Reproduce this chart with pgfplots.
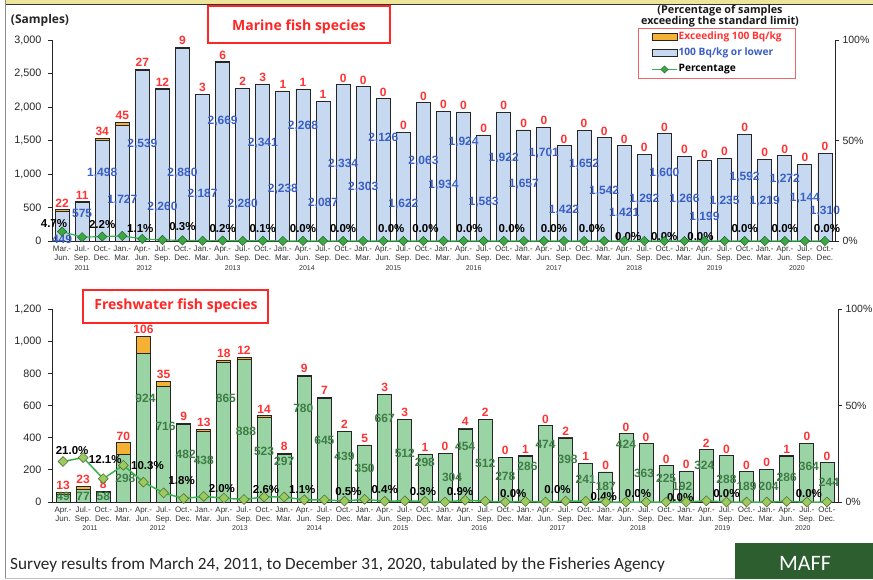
\documentclass[border=0pt]{standalone}
\usepackage{pgfplots}
\pgfplotsset{compat=1.18}
\usepackage{pgfplotstable}
\usepackage{fontspec}
\setmainfont{Liberation Sans}
\newfontfamily\osans{Open Sans}
\newfontfamily\carl{Carlito}
\definecolor{lowblue}{HTML}{C6D9F0}
\definecolor{excor}{HTML}{F4B133}
\definecolor{fwgreen}{HTML}{9AD3A4}
\definecolor{labblue}{HTML}{3B5FC4}
\definecolor{labred}{HTML}{FF3333}
\definecolor{labgreen}{HTML}{3E7D46}
\definecolor{pline}{HTML}{36B24C}
\definecolor{mmark}{HTML}{3BA845}
\definecolor{fmark}{HTML}{9BCB5F}
\definecolor{maffgreen}{HTML}{2C5E30}
\definecolor{legred}{HTML}{F06565}
\definecolor{titred}{HTML}{FF2626}
\definecolor{topyellow}{HTML}{EDE69A}

\pgfplotstableread{
x low exc pct
0 449 22 4.7
1 575 11 1.9
2 1498 34 2.2
3 1727 45 2.5
4 2539 27 1.05
5 2260 12 0.53
6 2880 9 0.31
7 2187 3 0.14
8 2669 6 0.22
9 2280 2 0.09
10 2341 3 0.13
11 2238 1 0.04
12 2268 1 0.04
13 2087 1 0.05
14 2334 0 0
15 2303 0 0
16 2126 0 0
17 1622 0 0
18 2063 0 0
19 1934 0 0
20 1924 0 0
21 1583 0 0
22 1922 0 0
23 1657 0 0
24 1701 0 0
25 1422 0 0
26 1652 0 0
27 1542 0 0
28 1421 0 0
29 1292 0 0
30 1600 0 0
31 1266 0 0
32 1199 0 0
33 1235 0 0
34 1592 0 0
35 1219 0 0
36 1272 0 0
37 1144 0 0
38 1310 0 0
}\marine

\pgfplotstableread{
x ly lab
0 30 449
1 418 575
2 1015 1,498
3 612 1,727
4 1448 2,539
5 507 2,260
6 1015 2,880
7 702 2,187
8 1792 2,669
9 552 2,280
10 1463 2,341
11 776 2,238
12 1717 2,268
13 567 2,087
14 1150 2,334
15 806 2,303
16 1538 2,126
17 552 1,622
18 1194 2,063
19 836 1,934
20 1478 1,924
21 582 1,583
22 1239 1,922
23 851 1,657
24 1314 1,701
25 463 1,422
26 1150 1,652
27 746 1,542
28 418 1,421
29 627 1,292
30 1015 1,600
31 627 1,266
32 358 1,199
33 597 1,235
34 955 1,592
35 597 1,219
36 925 1,272
37 642 1,144
38 448 1,310
}\marinelab

\pgfplotstableread{
x ly lab
-0.4 254 4.7
2 239 2.2
3.9 179 1.1
6 209 0.3
8 179 0.2
10 179 0.1
12 179 0.0
14 179 0.0
16.4 179 0.0
18.1 179 0.0
20.3 179 0.0
22.4 179 0.0
24.5 179 0.0
26.4 179 0.0
28.2 60 0.0
30 60 0.0
31.8 60 0.0
34 179 0.0
36 179 0.0
38.1 179 0.0
}\marinepct

\pgfplotstableread{
x low exc pct
0 49 13 21.0
1 77 23 23.0
2 58 8 12.1
3 298 70 19.0
4 924 106 10.3
5 716 35 4.7
6 482 9 1.8
7 438 13 2.9
8 865 18 2.0
9 888 12 1.3
10 523 14 2.6
11 297 8 2.6
12 780 9 1.1
13 645 7 1.1
14 439 2 0.5
15 350 5 1.4
16 667 3 0.4
17 512 3 0.6
18 298 1 0.3
19 304 0 0
20 454 4 0.9
21 512 2 0.4
22 278 0 0
23 286 1 0.3
24 474 0 0
25 398 2 0.5
26 241 1 0.4
27 187 0 0
28 424 0 0
29 363 0 0
30 225 0 0
31 192 0 0
32 324 2 0.6
33 288 0 0
34 189 0 0
35 204 0 0
36 286 1 0.3
37 364 0 0
38 244 0 0
}\fresh

\pgfplotstableread{
x ly lab
0 33 49
1 33 77
2 33 58
3.1 147 298
4.1 645 924
5.1 468 716
6.1 297 482
7 257 438
8.1 645 865
9.1 437 888
10 313 523
11 251 297
11.95 583 780
13 381 645
14 282 439
15 210 350
16 520 667
17 303 512
18 244 298
19.35 151 304
20 348 454
21 240 512
22 157 278
23.1 224 286
24 361 474
25.1 265 398
26 141 241
27 100 187
28 361 424
28.9 178 363
30 147 225
30.8 95 192
31.9 230 324
33 141 288
34 95 189
35.1 95 204
36 154 286
37.1 220 364
38.1 120 244
}\freshlab

\pgfplotstableread{
x ly lab
0.45 319 21.0
2.1 265 12.1
4.2 224 10.3
5.9 132 1.8
7.9 85 2.0
10.1 75 2.6
11.9 75 1.1
14.2 64 0.5
16.0 79 0.4
17.9 64 0.3
19.75 64 0.9
22.4 50 0.0
24.6 75 0.0
26.9 33 0.4
28.6 54 0.0
30.7 30 0.0
33.0 50 0.0
37.1 50 0.0
}\freshpct

\newcommand\vallab{\bfseries\fontsize{12}{14}\selectfont}
\newcommand\redlab{\bfseries\fontsize{12}{14}\selectfont}
\newcommand\pctlab{\bfseries\fontsize{11.5}{13}\selectfont}
\newcommand\yrfont{\fontsize{7}{8}\selectfont}

\tikzset{yearlab/.style={font=\yrfont, text=black!80}}

\pgfplotsset{
  mybarlegend/.style={legend image code/.code={\draw[##1] (0pt,-3.5pt) rectangle (25pt,3.5pt);}},
  mylinelegend/.style={legend image code/.code={\draw[mark repeat=2,mark phase=2,##1] plot coordinates {(0pt,0pt) (12.5pt,0pt) (25pt,0pt)};}},
  leftax/.style={
    scale only axis, clip=false,
    axis x line*=bottom, axis y line*=left,
    axis line style={draw=black!85, line width=0.9pt},
    tick align=outside, major tick length=4pt,
    xtick={0,...,38}, major x tick style={draw=none},
    xticklabel style={align=center, font=\fontsize{8}{9}\selectfont, text=black!80, inner sep=1pt},
    yticklabel style={font=\fontsize{10.8}{12}\selectfont, text=black!85, xshift=-3pt, /pgf/number format/1000 sep={,}},
    scaled y ticks=false,
    /pgf/number format/assume math mode=true,
    ytick style={draw=black!85, line width=0.8pt},
  },
  rightax/.style={
    scale only axis, clip=false,
    axis x line=none, axis y line*=right,
    axis line style={draw=black!85, line width=0.9pt},
    tick align=outside, major tick length=4pt,
    ymin=0, ymax=100, ytick={0,50,100}, yticklabels={0\%,50\%,100\%},
    yticklabel style={font=\fontsize{10.5}{12}\selectfont, text=black!85},
    ytick style={draw=black!85, line width=0.8pt},
  },
}

\begin{document}
\begin{tikzpicture}
\path[use as bounding box, fill=white] (0pt,0pt) rectangle (873pt,579pt);

% ---------------- Marine (top) ----------------
\begin{axis}[leftax, at={(52pt,338pt)}, anchor=south west, width=783pt, height=201pt,
  xmin=-0.5, xmax=38.5, ymin=0, ymax=3000, ytick={0,500,...,3000},
  xticklabels={{Mar.-\\Jun.},{Jul.-\\Sep.},{Oct.-\\Dec.},
   {Jan.-\\Mar.},{Apr.-\\Jun.},{Jul.-\\Sep.},{Oct.-\\Dec.},
   {Jan.-\\Mar.},{Apr.-\\Jun.},{Jul.-\\Sep.},{Oct.-\\Dec.},
   {Jan.-\\Mar.},{Apr.-\\Jun.},{Jul.-\\Sep.},{Oct.-\\Dec.},
   {Jan.-\\Mar.},{Apr.-\\Jun.},{Jul.-\\Sep.},{Oct.-\\Dec.},
   {Jan.-\\Mar.},{Apr.-\\Jun.},{Jul.-\\Sep.},{Oct.-\\Dec.},
   {Jan.-\\Mar.},{Apr.-\\Jun.},{Jul.-\\Sep.},{Oct.-\\Dec.},
   {Jan.-\\Mar.},{Apr.-\\Jun.},{Jul.-\\Sep.},{Oct.-\\Dec.},
   {Jan.-\\Mar.},{Apr.-\\Jun.},{Jul.-\\Sep.},{Oct.-\\Dec.},
   {Jan.-\\Mar.},{Apr.-\\Jun.},{Jul.-\\Sep.},{Oct.-\\Dec.}},
  legend style={at={(0.7484,1.0597)}, anchor=north west, draw=legred, line width=0.8pt,
    font=\osans\bfseries\fontsize{10.2}{12}\selectfont, inner xsep=13pt, inner ysep=3pt,
    row sep=4pt, nodes={inner sep=1pt, text height=7.5pt, text depth=2.5pt},
    /tikz/every even column/.append style={column sep=3pt}},
  legend cell align=left,
]
\addplot[ybar, bar width=14pt, bar shift=0pt, fill=excor, draw=black!85, line width=0.8pt, forget plot,
  nodes near coords, point meta=explicit symbolic,
  every node near coord/.append style={font=\redlab, text=labred, inner sep=2pt}]
  table[x=x, y expr=\thisrow{low}+\thisrow{exc}, meta=exc] {\marine};
\addplot[ybar, bar width=14pt, bar shift=0pt, fill=lowblue, draw=black!85, line width=0.8pt, forget plot]
  table[x=x, y=low] {\marine};
\addplot[draw=none, forget plot, nodes near coords, point meta=explicit symbolic,
  every node near coord/.append style={anchor=center, font=\vallab, text=labblue, inner sep=0pt}]
  table[x=x, y=ly, meta=lab] {\marinelab};
\addplot[draw=none, forget plot, nodes near coords={\pgfplotspointmeta\%}, point meta=explicit symbolic,
  every node near coord/.append style={anchor=center, font=\pctlab, text=black, inner sep=0pt}]
  table[x=x, y=ly, meta=lab] {\marinepct};
\addlegendimage{mybarlegend, fill=excor, draw=black!85, line width=0.8pt}
\addlegendentry{\textcolor{labred}{Exceeding 100 Bq/kg}}
\addlegendimage{mybarlegend, fill=lowblue, draw=black!85, line width=0.8pt}
\addlegendentry{\textcolor{labblue}{100 Bq/kg or lower}}
\addlegendimage{mylinelegend, color=pline, line width=1.2pt, mark=square*, mark size=2.5pt,
  mark options={rotate=45, fill=mmark, draw=mmark!60!black, line width=0.5pt}}
\addlegendentry{Percentage}
\node[yearlab] at ([yshift=-27pt]axis cs:1,0) {2011};
\node[yearlab] at ([yshift=-27pt]axis cs:4.1,0) {2012};
\node[yearlab] at ([yshift=-27pt]axis cs:8.5,0) {2013};
\node[yearlab] at ([yshift=-27pt]axis cs:12.2,0) {2014};
\node[yearlab] at ([yshift=-27pt]axis cs:16.5,0) {2015};
\node[yearlab] at ([yshift=-27pt]axis cs:20.5,0) {2016};
\node[yearlab] at ([yshift=-27pt]axis cs:24.5,0) {2017};
\node[yearlab] at ([yshift=-27pt]axis cs:28.5,0) {2018};
\node[yearlab] at ([yshift=-27pt]axis cs:32.5,0) {2019};
\node[yearlab] at ([yshift=-27pt]axis cs:36.6,0) {2020};
\end{axis}

\begin{axis}[rightax, at={(52pt,338pt)}, anchor=south west, width=783pt, height=201pt,
  xmin=-0.5, xmax=38.5]
\addplot[color=pline, line width=1.2pt, mark=square*, mark size=3.3pt,
  mark options={rotate=45, fill=mmark, draw=mmark!60!black, line width=0.5pt}]
  table[x=x, y=pct] {\marine};
\end{axis}

% ---------------- Freshwater (bottom) ----------------
\begin{axis}[leftax, at={(52pt,77pt)}, anchor=south west, width=786pt, height=193pt,
  xmin=-0.55, xmax=38.55, ymin=0, ymax=1200, ytick={0,200,...,1200},
  xticklabels={{Apr.-\\Jun.},{Jul.-\\Sep.},{Oct.-\\Dec.},
   {Jan.-\\Mar.},{Apr.-\\Jun.},{Jul.-\\Sep.},{Oct.-\\Dec.},
   {Jan.-\\Mar.},{Apr.-\\Jun.},{Jul.-\\Sep.},{Oct.-\\Dec.},
   {Jan.-\\Mar.},{Apr.-\\Jun.},{Jul.-\\Sep.},{Oct.-\\Dec.},
   {Jan.-\\Mar.},{Apr.-\\Jun.},{Jul.-\\Sep.},{Oct.-\\Dec.},
   {Jan.-\\Mar.},{Apr.-\\Jun.},{Jul.-\\Sep.},{Oct.-\\Dec.},
   {Jan.-\\Mar.},{Apr.-\\Jun.},{Jul.-\\Sep.},{Oct.-\\Dec.},
   {Jan.-\\Mar.},{Apr.-\\Jun.},{Jul.-\\Sep.},{Oct.-\\Dec.},
   {Jan.-\\Mar.},{Apr.-\\Jun.},{Jul.-\\Sep.},{Oct.-\\Dec.},
   {Jan.-\\Mar.},{Apr.-\\Jun.},{Jul.-\\Sep.},{Oct.-\\Dec.}},
]
\addplot[ybar, bar width=14pt, bar shift=0pt, fill=excor, draw=black!85, line width=0.8pt, forget plot,
  nodes near coords, point meta=explicit symbolic,
  every node near coord/.append style={font=\redlab, text=labred, inner sep=2pt}]
  table[x=x, y expr=\thisrow{low}+\thisrow{exc}, meta=exc] {\fresh};
\addplot[ybar, bar width=14pt, bar shift=0pt, fill=fwgreen, draw=black!85, line width=0.8pt, forget plot]
  table[x=x, y=low] {\fresh};
\addplot[draw=none, forget plot, nodes near coords, point meta=explicit symbolic,
  every node near coord/.append style={anchor=center, font=\vallab, text=labgreen, inner sep=0pt}]
  table[x=x, y=ly, meta=lab] {\freshlab};
\addplot[draw=none, forget plot, nodes near coords={\pgfplotspointmeta\%}, point meta=explicit symbolic,
  every node near coord/.append style={anchor=center, font=\pctlab, text=black, inner sep=0pt}]
  table[x=x, y=ly, meta=lab] {\freshpct};
\node[yearlab] at ([yshift=-26pt]axis cs:1.34,0) {2011};
\node[yearlab] at ([yshift=-26pt]axis cs:4.7,0) {2012};
\node[yearlab] at ([yshift=-26pt]axis cs:8.8,0) {2013};
\node[yearlab] at ([yshift=-26pt]axis cs:12.5,0) {2014};
\node[yearlab] at ([yshift=-26pt]axis cs:16.8,0) {2015};
\node[yearlab] at ([yshift=-26pt]axis cs:20.7,0) {2016};
\node[yearlab] at ([yshift=-26pt]axis cs:24.6,0) {2017};
\node[yearlab] at ([yshift=-26pt]axis cs:28.6,0) {2018};
\node[yearlab] at ([yshift=-26pt]axis cs:32.8,0) {2019};
\node[yearlab] at ([yshift=-26pt]axis cs:36.8,0) {2020};
\end{axis}

\begin{axis}[rightax, at={(52pt,77pt)}, anchor=south west, width=786pt, height=193pt,
  xmin=-0.55, xmax=38.55]
\addplot[color=pline, line width=1.5pt, mark=square*, mark size=3.5pt,
  mark options={rotate=45, fill=fmark, draw=fmark!55!black, line width=0.6pt}]
  table[x=x, y=pct] {\fresh};
\end{axis}

% ---------------- decorations ----------------
\begin{scope}[x=1pt, y=1pt]
\fill[topyellow] (5,574) rectangle (873,579);
\draw[black!80, line width=0.9pt] (5,574.3) -- (873,574.3);
\draw[black!45, line width=1.6pt] (5.5,0) -- (5.5,579);
\draw[black!25, line width=0.6pt] (5,0.8) -- (735,0.8);
% titles
\draw[titred, line width=2pt, fill=white] (208,536) rectangle (390,573);
\node[anchor=base, font=\osans\bfseries\fontsize{14}{16}\selectfont, text=titred] at (299,548) {Marine fish species};
\draw[titred, line width=2pt, fill=white] (83,256) rectangle (268,289);
\node[anchor=base, font=\osans\bfseries\fontsize{14}{16}\selectfont, text=titred] at (176,269) {Freshwater fish species};
\node[anchor=base, font=\osans\bfseries\fontsize{12}{14}\selectfont, text=black!85] at (40,555) {(Samples)};
\node[anchor=base, font=\osans\bfseries\fontsize{10.8}{13}\selectfont, text=black!90, inner sep=0pt] at (720,565.2) {(Percentage of samples};
\node[anchor=base, font=\osans\bfseries\fontsize{10.8}{13}\selectfont, text=black!90, inner sep=0pt] at (720,554.6) {exceeding the standard limit)};
% footer
\node[anchor=base west, font=\carl\fontsize{17.2}{20}\selectfont, text=black!85, inner sep=0pt] at (10,10)
  {Survey results from March 24, 2011, to December 31, 2020, tabulated by the Fisheries Agency};
\fill[maffgreen] (735,0) rectangle (873,36);
\node[font=\carl\fontsize{22}{26}\selectfont, text=white] at (805,16) {MAFF};
\end{scope}
\end{tikzpicture}
\end{document}
